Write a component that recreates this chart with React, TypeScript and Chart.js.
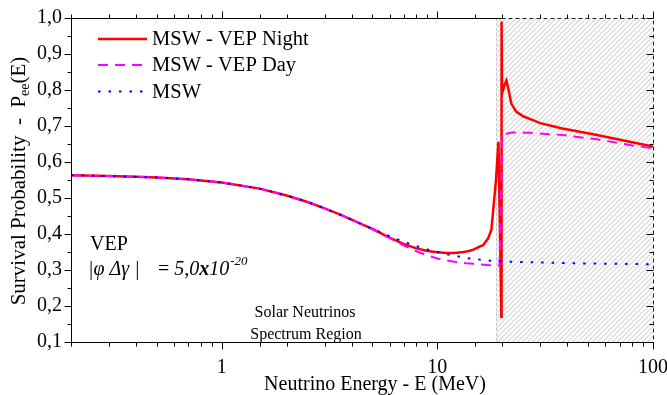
import React, { useEffect, useRef } from "react";
import { Chart, registerables } from "chart.js";

Chart.register(...registerables);

// ---------- data ----------
const nightEnergy = [0.2, 0.3, 0.4, 0.5, 0.7, 1, 1.5, 2, 2.5, 3, 3.5, 4, 4.5, 5, 6, 7, 8, 9, 10, 11, 12, 13, 14, 14.6, 15.7, 16.3, 17.2, 17.8, 18.1, 18.7, 19.2, 19.5, 19.8, 19.85, 19.95, 20.5, 20.9, 21.4, 22, 23.2, 25, 26.8, 30, 38, 55, 78, 100];
const nightProb = [0.563, 0.561, 0.559, 0.557, 0.552, 0.543, 0.526, 0.507, 0.489, 0.471, 0.455, 0.44, 0.426, 0.414, 0.39, 0.372, 0.36, 0.353, 0.349, 0.347, 0.347, 0.349, 0.353, 0.356, 0.365, 0.369, 0.388, 0.411, 0.457, 0.55, 0.656, 0.42, 0.17, 0.99, 0.79, 0.815, 0.826, 0.8, 0.763, 0.74, 0.727, 0.72, 0.708, 0.693, 0.675, 0.656, 0.643];

const dayEnergy = [0.2, 0.3, 0.4, 0.5, 0.7, 1, 1.5, 2, 2.5, 3, 3.5, 4, 4.5, 5, 6, 7, 8, 9, 10, 11, 12, 13.6, 15, 17, 19.4, 20, 22, 26.8, 38, 55, 78, 100];
const dayProb = [0.563, 0.561, 0.559, 0.557, 0.552, 0.543, 0.526, 0.507, 0.489, 0.471, 0.455, 0.44, 0.426, 0.413, 0.389, 0.368, 0.352, 0.34, 0.332, 0.327, 0.323, 0.319, 0.317, 0.314, 0.312, 0.675, 0.682, 0.681, 0.675, 0.663, 0.647, 0.638];

const mswEnergy = [0.2, 0.3, 0.4, 0.5, 0.7, 1, 1.5, 2, 2.5, 3, 3.5, 4, 4.5, 5, 5.6, 6, 7, 8, 9, 10, 11, 13.7, 17.5, 21.6, 30, 50, 100];
const mswProb = [0.563, 0.561, 0.559, 0.557, 0.552, 0.543, 0.526, 0.507, 0.489, 0.471, 0.455, 0.44, 0.426, 0.414, 0.402, 0.394, 0.378, 0.366, 0.357, 0.35, 0.344, 0.333, 0.326, 0.323, 0.321, 0.318, 0.316];

const seriesLabels = ["MSW - VEP Night", "MSW - VEP Day", "MSW"];
const hatchStart = 18.8;
const xMin = 0.2;
const xMax = 100;
const yMin = 0.1;
const yMax = 1.0;

const FONT = '"Liberation Serif", "Times New Roman", serif';

const toPoints = (xs: number[], ys: number[]) => xs.map((x, i) => ({ x, y: ys[i] }));
const isDecade = (v: number) => Math.abs(Math.log10(v) - Math.round(Math.log10(v))) < 1e-6;
const isTenth = (v: number) => Math.abs(v * 10 - Math.round(v * 10)) < 1e-6;

const framePlugin = {
  id: "frame",
  beforeDatasetsDraw(chart: any) {
    const { ctx, chartArea: a, scales } = chart;
    const xs = scales.x;
    const xh = xs.getPixelForValue(hatchStart);
    ctx.save();
    ctx.beginPath();
    ctx.rect(xh, a.top, a.right - xh, a.bottom - a.top);
    ctx.clip();
    ctx.strokeStyle = "#bfbfbf";
    ctx.lineWidth = 1;
    ctx.beginPath();
    const h = a.bottom - a.top;
    for (let s = xh - h; s < a.right + 5; s += 5) {
      ctx.moveTo(s, a.bottom);
      ctx.lineTo(s + h, a.top);
    }
    ctx.stroke();
    ctx.restore();
    ctx.save();
    ctx.strokeStyle = "#c4c4c4";
    ctx.setLineDash([3, 2]);
    ctx.beginPath();
    ctx.moveTo(Math.round(xh) + 0.5, a.top);
    ctx.lineTo(Math.round(xh) + 0.5, a.bottom);
    ctx.stroke();
    ctx.restore();
  },
  afterDatasetsDraw(chart: any) {
    const { ctx, chartArea: a, scales } = chart;
    const xs = scales.x;
    const ys = scales.y;
    const xh = xs.getPixelForValue(hatchStart);
    const L = Math.round(a.left) + 0.5;
    const R = Math.round(a.right) + 0.5;
    const T = Math.round(a.top) + 0.5;
    const B = Math.round(a.bottom) + 0.5;
    ctx.save();
    ctx.strokeStyle = "#000";
    ctx.lineWidth = 1;
    ctx.beginPath();
    ctx.moveTo(L, T);
    ctx.lineTo(L, B);
    ctx.lineTo(R, B);
    ctx.moveTo(L, T);
    ctx.lineTo(xh + 5, T);
    ctx.stroke();
    ctx.save();
    ctx.setLineDash([4, 3]);
    ctx.strokeStyle = "#222";
    ctx.beginPath();
    ctx.moveTo(xh + 5, T);
    ctx.lineTo(R, T);
    ctx.lineTo(R, B);
    ctx.stroke();
    ctx.restore();
    ctx.beginPath();
    for (const t of xs.ticks) {
      const v = t.value;
      if (v < xMin - 1e-9 || v > xMax + 1e-9) continue;
      const px = Math.round(xs.getPixelForValue(v)) + 0.5;
      const len = isDecade(v) ? 7 : 4;
      ctx.moveTo(px, B);
      ctx.lineTo(px, B + len);
      ctx.moveTo(px, T);
      ctx.lineTo(px, T - len);
    }
    for (const t of ys.ticks) {
      const v = t.value;
      const py = Math.round(ys.getPixelForValue(v)) + 0.5;
      const len = isTenth(v) ? 7 : 4;
      ctx.moveTo(L, py);
      ctx.lineTo(L - len, py);
      ctx.moveTo(R, py);
      ctx.lineTo(R - len, py);
    }
    ctx.stroke();

    // legend
    const rows = [39, 65, 91.5];
    chart.data.datasets.forEach((ds: any, i: number) => {
      ctx.save();
      ctx.strokeStyle = ds.borderColor;
      ctx.lineWidth = ds.borderWidth;
      ctx.setLineDash(ds.borderDash || []);
      ctx.beginPath();
      ctx.moveTo(98, rows[i]);
      ctx.lineTo(147, rows[i]);
      ctx.stroke();
      ctx.restore();
      ctx.fillStyle = "#000";
      ctx.font = `20.5px ${FONT}`;
      ctx.textBaseline = "middle";
      ctx.textAlign = "left";
      ctx.fillText(ds.label, 152, rows[i] + 1);
    });

    // annotations
    ctx.fillStyle = "#000";
    ctx.textBaseline = "alphabetic";
    ctx.textAlign = "left";
    ctx.font = `20px ${FONT}`;
    ctx.fillText("VEP", 90, 250);
    ctx.font = `italic 20px ${FONT}`;
    ctx.fillText("|\u03C6 \u0394\u03B3 |", 88, 275);
    let cx = 158;
    ctx.font = `20px ${FONT}`;
    ctx.fillText("= ", cx, 275);
    cx += ctx.measureText("= ").width;
    ctx.font = `italic 20px ${FONT}`;
    ctx.fillText("5,0", cx, 275);
    cx += ctx.measureText("5,0").width;
    ctx.font = `italic bold 20px ${FONT}`;
    ctx.fillText("x", cx, 275);
    cx += ctx.measureText("x").width;
    ctx.font = `italic 20px ${FONT}`;
    ctx.fillText("10", cx, 275);
    cx += ctx.measureText("10").width;
    ctx.font = `italic 13px ${FONT}`;
    ctx.fillText("-20", cx + 1, 265);

    ctx.font = `16px ${FONT}`;
    ctx.textAlign = "center";
    ctx.fillText("Solar Neutrinos", 305, 317);
    ctx.fillText("Spectrum Region", 306, 339);

    ctx.font = `20px ${FONT}`;
    ctx.fillText("Neutrino Energy - E (MeV)", 375, 390);

    ctx.save();
    ctx.translate(25, 181);
    ctx.rotate(-Math.PI / 2);
    ctx.textAlign = "left";
    const p1 = "Survival Probability  -  P";
    const p2 = "ee";
    const p3 = "(E)";
    ctx.font = `21px ${FONT}`;
    const w1 = ctx.measureText(p1).width;
    const w3 = ctx.measureText(p3).width;
    ctx.font = `14px ${FONT}`;
    const w2 = ctx.measureText(p2).width;
    const total = w1 + w2 + w3;
    let sx = -total / 2;
    ctx.font = `21px ${FONT}`;
    ctx.fillText(p1, sx, 0);
    sx += w1;
    ctx.font = `14px ${FONT}`;
    ctx.fillText(p2, sx, 4);
    sx += w2;
    ctx.font = `21px ${FONT}`;
    ctx.fillText(p3, sx, 0);
    ctx.restore();

    ctx.restore();
  },
};

export default function App() {
  const ref = useRef<HTMLCanvasElement>(null);
  useEffect(() => {
    if (!ref.current) return;
    Chart.defaults.font.family = FONT;
    const chart = new Chart(ref.current, {
      type: "line",
      data: {
        datasets: [
          {
            label: seriesLabels[0],
            data: toPoints(nightEnergy, nightProb),
            borderColor: "#ff0000",
            borderWidth: 2.5,
            pointRadius: 0,
            tension: 0,
            fill: false,
            order: 3,
          },
          {
            label: seriesLabels[1],
            data: toPoints(dayEnergy, dayProb),
            borderColor: "#ff00ff",
            borderWidth: 2,
            borderDash: [10, 7],
            pointRadius: 0,
            tension: 0,
            fill: false,
            order: 2,
          },
          {
            label: seriesLabels[2],
            data: toPoints(mswEnergy, mswProb),
            borderColor: "#0000ff",
            borderWidth: 2,
            borderDash: [2.5, 8],
            pointRadius: 0,
            tension: 0,
            fill: false,
            order: 1,
          },
        ],
      },
      options: {
        responsive: false,
        animation: false,
        layout: { padding: { top: 18, right: 14, left: 0, bottom: 0 } },
        plugins: { legend: { display: false }, tooltip: { enabled: false } },
        scales: {
          x: {
            type: "logarithmic",
            min: xMin,
            max: xMax,
            grid: { display: false, drawTicks: false },
            border: { display: false },
            afterFit: (s: any) => {
              s.height = 53;
              s.paddingLeft = 0;
              s.paddingRight = 0;
            },
            ticks: {
              autoSkip: false,
              maxRotation: 0,
              minRotation: 0,
              padding: 14,
              color: "#000",
              font: { family: FONT, size: 20 },
              callback: (v: any) => (isDecade(Number(v)) ? String(Math.round(Number(v))) : ""),
            },
          },
          y: {
            type: "linear",
            min: yMin,
            max: yMax,
            grid: { display: false, drawTicks: false },
            border: { display: false },
            afterFit: (s: any) => {
              s.width = 71;
              s.paddingTop = 0;
              s.paddingBottom = 0;
            },
            ticks: {
              stepSize: 0.05,
              autoSkip: false,
              padding: 9,
              color: "#000",
              font: { family: FONT, size: 20 },
              callback: (v: any) =>
                isTenth(Number(v)) ? (Math.round(Number(v) * 10) / 10).toFixed(1).replace(".", ",") : "",
            },
          },
        },
      },
      plugins: [framePlugin],
    } as any);
    return () => chart.destroy();
  }, []);
  return (
    <div style={{ position: "fixed", left: 0, top: 0, width: 667, height: 395, background: "#fff" }}>
      <canvas ref={ref} width={667} height={395} style={{ display: "block" }} />
    </div>
  );
}
